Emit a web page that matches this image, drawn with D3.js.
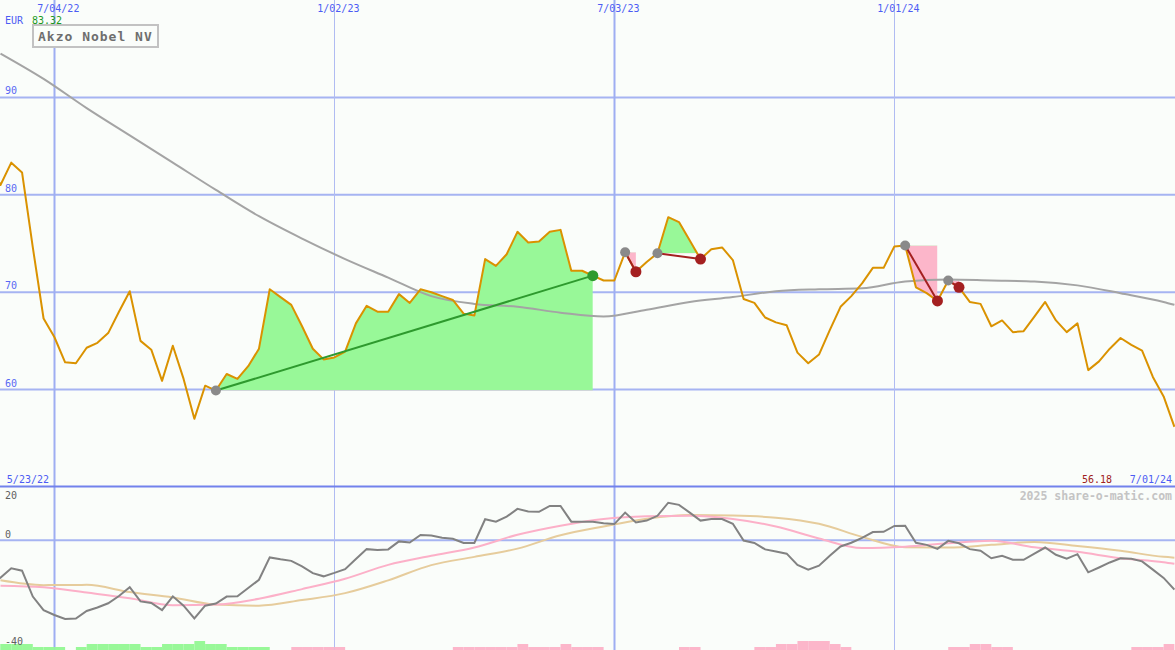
<!DOCTYPE html>
<html><head><meta charset="utf-8">
<script src="https://cdn.jsdelivr.net/npm/d3@7"></script>
<style>
html,body{margin:0;padding:0;background:#fafdfa;}
svg{display:block;}
text{font-family:"DejaVu Sans Mono",monospace;}
</style></head><body>
<svg id="chart" width="1175" height="650"></svg>
<script>
// ---------- DATA ----------
const startDate = Date.UTC(2022, 4, 23); // first weekly close, 5/23/22
const price = [
  83.32, 81.0, 83.3, 82.3, 74.6, 67.3, 65.4, 62.8, 62.7, 64.3, 64.8,
  65.8, 68.0, 70.1, 65.0, 64.1, 60.9, 64.5, 61.1, 57.0, 60.4,
  59.9, 61.6, 61.1, 62.4, 64.2, 70.3, 69.5, 68.7, 66.5, 64.2,
  63.1, 63.3, 63.9, 66.8, 68.6, 68.0, 68.0, 69.8, 68.9, 70.3,
  70.0, 69.6, 69.2, 67.8, 67.6, 73.4, 72.7, 73.9, 76.2, 75.1,
  75.2, 76.2, 76.4, 72.2, 72.2, 71.7, 71.2, 71.2, 74.1, 72.1,
  73.1, 74.0, 77.7, 77.2, 75.3, 73.4, 74.4, 74.6, 73.3, 69.3,
  68.9, 67.4, 66.9, 66.6, 63.8, 62.7, 63.6, 66.1, 68.5, 69.6,
  70.9, 72.5, 72.5, 74.7, 74.8, 70.5, 69.9, 69.1, 71.2, 70.5,
  69.0, 68.8, 66.5, 67.1, 65.9, 66.0, 67.5, 69.0, 67.1, 65.9,
  66.8, 62.0, 62.9, 64.2, 65.3, 64.6, 64.0, 61.3, 59.3, 56.18
];
const oscillator = [
  -16.6, -14.0, -10.5, -11.4, -21.1, -26.2, -28.0, -29.5, -29.3, -26.5, -25.2,
  -23.6, -20.9, -17.6, -22.9, -23.5, -26.2, -21.0, -24.5, -29.3, -24.5,
  -23.7, -21.1, -21.0, -17.9, -14.8, -6.4, -7.1, -7.7, -9.8, -12.3,
  -13.5, -12.2, -10.8, -7.0, -3.3, -3.6, -3.4, -0.4, -0.8, 2.0,
  1.8, 1.0, 0.6, -1.0, -1.0, 7.9, 7.0, 8.9, 11.8, 10.8,
  10.7, 12.9, 12.9, 7.0, 7.0, 7.0, 6.4, 6.1, 10.4, 6.7,
  7.4, 9.2, 14.1, 13.3, 10.4, 7.4, 8.0, 8.0, 6.2, -0.1,
  -1.0, -3.4, -4.2, -5.0, -9.2, -11.0, -9.5, -5.8, -2.3, -0.9,
  0.9, 3.1, 3.2, 5.4, 5.5, -0.9, -1.7, -3.2, -0.2, -1.1,
  -3.3, -3.9, -6.7, -5.8, -7.3, -7.3, -5.0, -2.7, -5.4, -6.9,
  -5.2, -12.0, -10.2, -8.3, -6.7, -6.9, -7.9, -11.0, -14.1, -18.5
];
// signal strength per week (bar from week j to week j+1); + green, - pink
const signal = [2,2,2,2, 1,1,1, 0, 1, 2,2,2,2,2, 1,1, 2,2,2, 3, 2,2, 1,1,1,1, 0,0,
  -1,-1,-1,-1,-1, 0,0,0,0,0,0,0,0,0,0, -1,-1,-1,-1,-1,-1, -2, -1,-1,-1, -2, -1,-1,-1,
  0,0,0,0,0,0,0, -1,-1, 0,0,0,0,0, -1,-1, -2,-2, -3,-3,-3, -2, -1, 0,0,0,0,0,0,0,0,0,
  -1,-1, -2,-2, -1,-1, 0,0,0,0,0,0,0,0,0,0,0, -1,-1,-1, -2];
// smoothed series sampled every 4 weeks (week index into price)
const smoothWeeks = [1,5,9,13,17,21,25,29,33,37,41,45,49,53,57,61,65,69,73,77,81,85,89,93,97,101,105,109,110];
const movingAvg = [94.5,91.9,88.9,86.1,83.3,80.5,77.8,75.5,73.4,71.5,69.6,68.8,68.5,67.9,67.5,68.2,69.0,69.5,70.1,70.3,70.4,71.1,71.3,71.2,71.1,70.7,69.9,69.0,68.7];
const signalPink = [-17.0,-17.6,-19.6,-21.7,-24.3,-24.1,-21.9,-18.3,-14.4,-9.2,-5.8,-2.7,2.1,5.5,8.0,9.0,9.2,8.0,5.2,0.7,-2.9,-2.4,-1.1,-0.2,-2.6,-4.3,-6.7,-8.2,-8.8];
const signalTan = [-15.0,-16.8,-16.7,-19.4,-21.4,-24.1,-24.5,-22.4,-19.8,-15.0,-9.3,-6.2,-3.1,1.9,5.2,8.1,9.5,9.3,8.5,6.2,1.3,-2.6,-2.7,-1.7,-0.6,-2.1,-3.9,-6.2,-6.5];
// trend patterns (week indices)
const patternStart = [21, 59, 62, 85, 89];
const patternEnd   = [56, 60, 66, 88, 90];
const patternDir   = ["up", "down", "down", "down", "down"];
const gridDates = [Date.UTC(2022,6,4), Date.UTC(2023,0,2), Date.UTC(2023,6,3), Date.UTC(2024,0,1)];
const priceTicks = [60, 70, 80, 90];
const oscTicks = [20, 0, -40];
const titleText = "Akzo Nobel NV";
const currency = "EUR";

// ---------- SETUP ----------
const W = 1175, H = 650, MAIN_B = 487;
const svg = d3.select("#chart");
const dates = price.map((_, j) => new Date(startDate + j * 7 * 864e5));
const x = d3.scaleUtc().domain([Date.UTC(2022,4,30), Date.UTC(2024,6,1)]).range([0.5, 1174.4]);
const y = d3.scaleLinear().domain([50, 100]).range([MAIN_B, 0]);
const yo = d3.scaleLinear().domain([-40, 20]).range([647, MAIN_B]);
const fmt = d3.utcFormat("%-m/%d/%y");

svg.append("rect").attr("width", W).attr("height", H).attr("fill", "#fafdfa");
const defs = svg.append("defs");
defs.append("clipPath").attr("id", "clipMain").append("rect").attr("x", 0).attr("y", 0).attr("width", W).attr("height", MAIN_B);
defs.append("clipPath").attr("id", "clipLow").append("rect").attr("x", 0).attr("y", MAIN_B).attr("width", W).attr("height", H - MAIN_B);

// grid lines
const grid = svg.append("g");
grid.selectAll("line.h").data(priceTicks).join("line")
  .attr("x1", 0).attr("x2", W).attr("y1", d => y(d)).attr("y2", d => y(d))
  .attr("stroke", "#a6b4f2").attr("stroke-width", 2);
grid.append("line").attr("x1", 0).attr("x2", W).attr("y1", yo(0)).attr("y2", yo(0))
  .attr("stroke", "#a6b4f2").attr("stroke-width", 2);
grid.selectAll("line.v").data(gridDates).join("line")
  .attr("x1", d => Math.round(x(d)) + 0.5).attr("x2", d => Math.round(x(d)) + 0.5)
  .attr("y1", 0).attr("y2", H)
  .attr("stroke", d => new Date(d).getUTCMonth() === 6 ? "#9eaef2" : "#b0bcf2")
  .attr("stroke-width", d => new Date(d).getUTCMonth() === 6 ? 2 : 1);

// histogram bars
const hScale = d3.scaleLinear().domain([0, 3]).range([0, 9]);
svg.append("g").selectAll("rect").data(signal.map((v, j) => ({v, j})).filter(d => d.v !== 0)).join("rect")
  .attr("x", d => x(dates[d.j])).attr("width", d => x(dates[d.j + 1]) - x(dates[d.j]))
  .attr("y", d => H - hScale(Math.abs(d.v))).attr("height", d => hScale(Math.abs(d.v)))
  .attr("fill", d => d.v > 0 ? "#98f898" : "#fcb6ca");

// pattern fills
const mainG = svg.append("g").attr("clip-path", "url(#clipMain)");
patternStart.forEach((s, k) => {
  const e = patternEnd[k];
  const level = price[s];
  const pts = d3.range(s, e + 1);
  const area = d3.area().x(j => x(dates[j])).y0(y(level)).y1(j => y(price[j]));
  const x0 = x(dates[s]), x1 = x(dates[e]);
  defs.append("clipPath").attr("id", "pu" + k).append("rect")
    .attr("x", x0).attr("y", 0).attr("width", x1 - x0).attr("height", y(level));
  defs.append("clipPath").attr("id", "pd" + k).append("rect")
    .attr("x", x0).attr("y", y(level)).attr("width", x1 - x0).attr("height", MAIN_B - y(level));
  mainG.append("path").datum(pts).attr("d", area).attr("fill", "#98f898").attr("clip-path", `url(#pu${k})`);
  mainG.append("path").datum(pts).attr("d", area).attr("fill", "#fcb6ca").attr("clip-path", `url(#pd${k})`);
});

// moving average
const smoothLine = (vals, ys) => d3.line().curve(d3.curveMonotoneX)
  .x((w) => x(dates[w])).y((w, i) => ys(vals[i]));
mainG.append("path").datum(smoothWeeks).attr("d", smoothLine(movingAvg, y))
  .attr("fill", "none").attr("stroke", "#a4a4a4").attr("stroke-width", 2);

// price line
mainG.append("path").datum(price)
  .attr("d", d3.line().x((d, j) => x(dates[j])).y(d => y(d)))
  .attr("fill", "none").attr("stroke", "#da9200").attr("stroke-width", 2).attr("stroke-linejoin", "round");

// trend lines and dots
patternStart.forEach((s, k) => {
  const e = patternEnd[k];
  const up = patternDir[k] === "up";
  mainG.append("line")
    .attr("x1", x(dates[s])).attr("y1", y(price[s])).attr("x2", x(dates[e])).attr("y2", y(price[e]))
    .attr("stroke", up ? "#2e9a2e" : "#a42020").attr("stroke-width", 2);
});
patternStart.forEach((s, k) => {
  const e = patternEnd[k];
  const up = patternDir[k] === "up";
  mainG.append("circle").attr("cx", x(dates[s])).attr("cy", y(price[s])).attr("r", 5).attr("fill", "#8a8a8a");
  mainG.append("circle").attr("cx", x(dates[e])).attr("cy", y(price[e])).attr("r", 5.5).attr("fill", up ? "#2e9a2e" : "#a42020");
});

// lower panel lines
const lowG = svg.append("g").attr("clip-path", "url(#clipLow)");
lowG.append("path").datum(smoothWeeks).attr("d", smoothLine(signalTan, yo))
  .attr("fill", "none").attr("stroke", "#e6cc9c").attr("stroke-width", 2);
lowG.append("path").datum(smoothWeeks).attr("d", smoothLine(signalPink, yo))
  .attr("fill", "none").attr("stroke", "#fcb0c8").attr("stroke-width", 2);
lowG.append("path").datum(oscillator)
  .attr("d", d3.line().x((d, j) => x(dates[j])).y(d => yo(d)))
  .attr("fill", "none").attr("stroke", "#828282").attr("stroke-width", 2);

// divider
svg.append("line").attr("x1", 0).attr("x2", W).attr("y1", 486.5).attr("y2", 486.5)
  .attr("stroke", "#7282ec").attr("stroke-width", 2);

// ---------- TEXT ----------
const T = svg.append("g").attr("font-size", 10);
T.selectAll("text.d").data(gridDates).join("text")
  .attr("x", d => x(d) + 4).attr("y", 12).attr("text-anchor", "middle")
  .attr("fill", "#4c5cf4").text(d => fmt(new Date(d)));
T.append("text").attr("x", 5).attr("y", 24).attr("fill", "#4c5cf4").text(currency);
T.append("text").attr("x", 32).attr("y", 24).attr("fill", "#1e9a1e").text(d3.format(".2f")(price[0]));
T.selectAll("text.p").data(priceTicks).join("text")
  .attr("x", 5).attr("y", d => y(d) - 3).attr("fill", "#5868f4").text(d => d);
T.selectAll("text.o").data(oscTicks).join("text")
  .attr("x", 5).attr("y", d => d === 20 ? 499 : yo(d) - 2).attr("fill", "#606060").text(d => d);
T.append("text").attr("x", 49).attr("y", 483).attr("text-anchor", "end").attr("fill", "#4c5cf4").text(fmt(dates[0]));
T.append("text").attr("x", 1172).attr("y", 483).attr("text-anchor", "end").attr("fill", "#4c5cf4").text(fmt(dates[dates.length - 1]));
T.append("text").attr("x", 1112).attr("y", 483).attr("text-anchor", "end").attr("fill", "#a02020").text(d3.format(".2f")(price[price.length - 1]));
T.append("text").attr("x", 1172).attr("y", 500).attr("text-anchor", "end").attr("fill", "#c4c4c4")
  .attr("font-size", 11.5).attr("font-weight", "bold").text("2025 share-o-matic.com");

// title box
svg.append("rect").attr("x", 33).attr("y", 25).attr("width", 125).attr("height", 22)
  .attr("fill", "#fafdfa").attr("stroke", "#c2c2c2").attr("stroke-width", 2);
svg.append("text").attr("x", 38).attr("y", 41).attr("font-size", 13).attr("font-weight", "bold")
  .attr("letter-spacing", 1).attr("fill", "#6e6e6e").text(titleText);
</script>
</body></html>
